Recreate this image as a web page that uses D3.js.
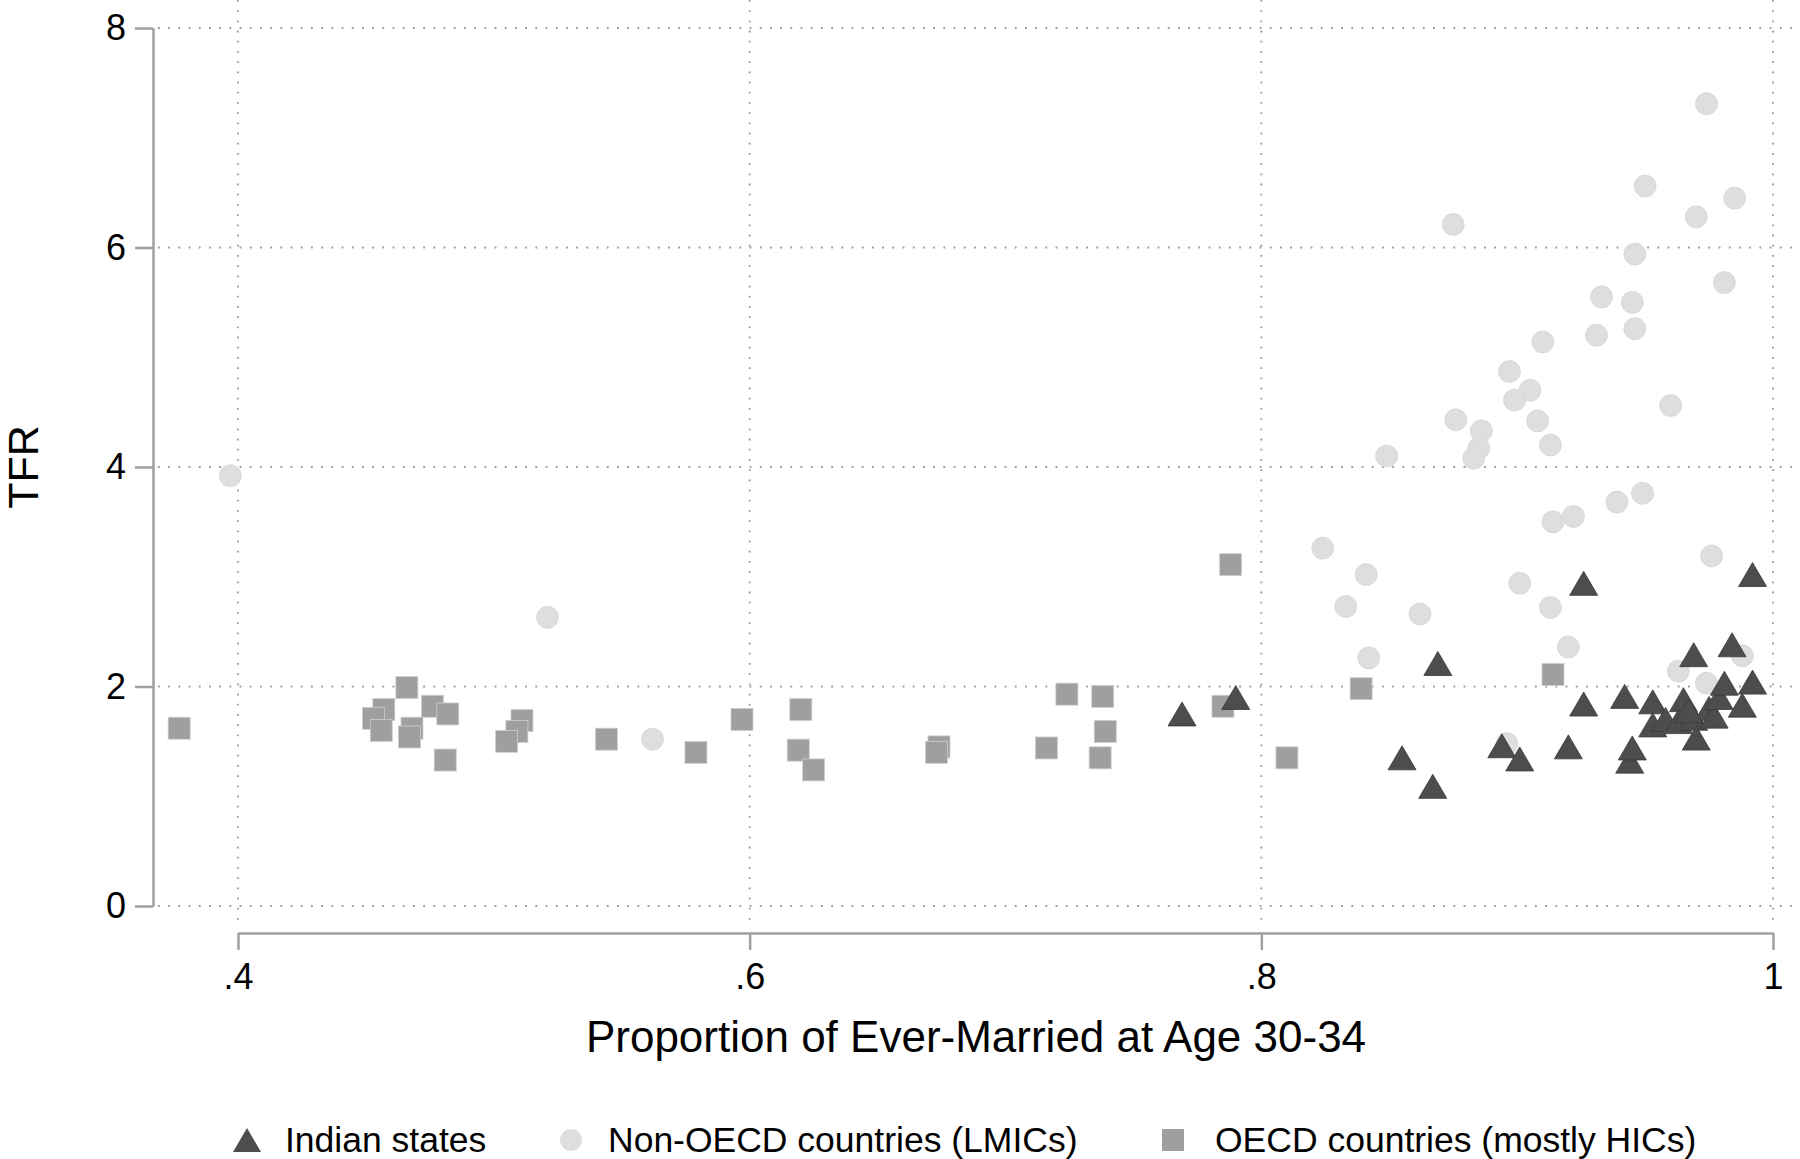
<!DOCTYPE html>
<html>
<head>
<meta charset="utf-8">
<script src="https://cdn.jsdelivr.net/npm/d3@7"></script>
<style>
  body { margin: 0; background: #fff; }
  text { font-family: "Liberation Sans", Arial, Helvetica, sans-serif; }
</style>
</head>
<body>
<div id="chart"></div>
<script>
// values: [proportion ever married 30-34, TFR]
var indianStates = [
   [0.769, 1.75], [0.790, 1.90], [0.855, 1.35], [0.867, 1.09], [0.869, 2.21],
   [0.894, 1.46], [0.901, 1.34], [0.920, 1.45], [0.926, 2.94], [0.926, 1.84],
   [0.942, 1.91], [0.944, 1.32], [0.945, 1.44], [0.953, 1.86], [0.953, 1.65],
   [0.958, 1.70], [0.965, 1.88], [0.963, 1.68], [0.969, 2.29], [0.969, 1.71],
   [0.970, 1.53], [0.975, 1.80], [0.977, 1.73], [0.979, 1.90], [0.981, 2.03],
   [0.984, 2.38], [0.988, 1.83], [0.992, 2.04], [0.992, 3.02], [0.967, 1.78]
];

var nonOecd = [
   [0.974, 7.31], [0.950, 6.56], [0.985, 6.45], [0.970, 6.28], [0.875, 6.21],
   [0.946, 5.94], [0.981, 5.68], [0.933, 5.55], [0.945, 5.50], [0.946, 5.26],
   [0.931, 5.20], [0.910, 5.14], [0.897, 4.87], [0.905, 4.70], [0.899, 4.61],
   [0.960, 4.56], [0.876, 4.43], [0.908, 4.42], [0.886, 4.33], [0.885, 4.17],
   [0.913, 4.20], [0.849, 4.10], [0.883, 4.08], [0.949, 3.76], [0.939, 3.68],
   [0.922, 3.55], [0.914, 3.50], [0.824, 3.26], [0.976, 3.19], [0.841, 3.02],
   [0.901, 2.94], [0.833, 2.73], [0.913, 2.72], [0.862, 2.66], [0.920, 2.36],
   [0.842, 2.26], [0.988, 2.28], [0.963, 2.14], [0.974, 2.03], [0.896, 1.48],
   [0.397, 3.92], [0.521, 2.63], [0.562, 1.52]
];

var oecd = [
   [0.377, 1.62], [0.466, 1.99], [0.457, 1.79], [0.453, 1.71], [0.456, 1.60],
   [0.476, 1.82], [0.482, 1.75], [0.468, 1.62], [0.467, 1.54], [0.481, 1.33],
   [0.511, 1.69], [0.509, 1.59], [0.505, 1.50], [0.544, 1.52], [0.579, 1.40],
   [0.597, 1.70], [0.620, 1.79], [0.619, 1.42], [0.625, 1.24], [0.674, 1.45],
   [0.673, 1.40], [0.716, 1.44], [0.724, 1.93], [0.738, 1.91], [0.739, 1.59],
   [0.737, 1.35], [0.785, 1.82], [0.788, 3.11], [0.810, 1.35], [0.839, 1.98],
   [0.914, 2.11]
];

var xTicks = [0.4, 0.6, 0.8, 1];
var xTickLabels = [".4", ".6", ".8", "1"];
var yTicks = [0, 2, 4, 6, 8];
var legendLabels = ["Indian states", "Non-OECD countries (LMICs)", "OECD countries (mostly HICs)"];

var width = 1800, height = 1159;

var svg = d3.select("#chart").append("svg")
   .attr("width", width)
   .attr("height", height);

// scales
var x = d3.scaleLinear().domain([0.4, 1]).range([238, 1773]);
var y = d3.scaleLinear().domain([0, 8]).range([906, 28]);

var gridColor = "#999999";
var axisColor = "#a0a0a0";

// dotted grid
svg.append("g").selectAll("line.hg")
   .data(yTicks)
   .enter().append("line")
   .attr("x1", 158).attr("x2", width)
   .attr("y1", function(d){ return y(d); })
   .attr("y2", function(d){ return y(d); })
   .attr("stroke", gridColor)
   .attr("stroke-width", 1.8)
   .attr("stroke-dasharray", "1.8 8.4");

svg.append("g").selectAll("line.vg")
   .data(xTicks)
   .enter().append("line")
   .attr("x1", function(d){ return x(d); })
   .attr("x2", function(d){ return x(d); })
   .attr("y1", 0).attr("y2", 923)
   .attr("stroke", gridColor)
   .attr("stroke-width", 1.8)
   .attr("stroke-dasharray", "1.8 8.4");

// axes
var yAxis = svg.append("g")
   .attr("transform", "translate(153,0)")
   .call(d3.axisLeft(y).tickValues(yTicks).tickSize(18).tickSizeOuter(0).tickPadding(9));

var xAxis = svg.append("g")
   .attr("transform", "translate(0,933)")
   .call(d3.axisBottom(x).tickValues(xTicks).tickSize(17).tickSizeOuter(0).tickPadding(13)
      .tickFormat(function(d, i){ return xTickLabels[i]; }));

[yAxis, xAxis].forEach(function(a){
   a.select(".domain").attr("stroke", axisColor).attr("stroke-width", 2.5);
   a.selectAll(".tick line").attr("stroke", axisColor).attr("stroke-width", 2.5);
   a.selectAll(".tick text").attr("fill", "#000").style("font-size", "36px")
      .style("font-family", '"Liberation Sans", Arial, Helvetica, sans-serif');
});

// axis titles
svg.append("text")
   .attr("x", 976).attr("y", 1037)
   .attr("text-anchor", "middle")
   .attr("dy", "0.35em")
   .style("font-size", "44px")
   .text("Proportion of Ever-Married at Age 30-34");

svg.append("text")
   .attr("transform", "translate(23,467) rotate(-90)")
   .attr("text-anchor", "middle")
   .attr("dy", "0.35em")
   .style("font-size", "43px")
   .text("TFR");

// markers
function triPath(w, h) {
   return "M0," + (-h/2) + "L" + (w/2) + "," + (h/2) + "L" + (-w/2) + "," + (h/2) + "Z";
}

var circleFill = "#dedede", squareFill = "#9f9f9f", triFill = "#4d4d4d";

svg.append("g").selectAll("circle")
   .data(nonOecd)
   .enter().append("circle")
   .attr("cx", function(d){ return x(d[0]); })
   .attr("cy", function(d){ return y(d[1]); })
   .attr("r", 11)
   .attr("fill", circleFill)
   .attr("stroke", "#d6d6d6")
   .attr("stroke-width", 0.8);

svg.append("g").selectAll("rect")
   .data(oecd)
   .enter().append("rect")
   .attr("x", function(d){ return x(d[0]) - 11; })
   .attr("y", function(d){ return y(d[1]) - 11; })
   .attr("width", 22).attr("height", 22)
   .attr("fill", squareFill)
   .attr("stroke", "#cfcfcf")
   .attr("stroke-width", 0.8);

svg.append("g").selectAll("path")
   .data(indianStates)
   .enter().append("path")
   .attr("transform", function(d){ return "translate(" + x(d[0]) + "," + y(d[1]) + ")"; })
   .attr("d", triPath(28, 24))
   .attr("fill", triFill)
   .attr("stroke", "#3a3a3a")
   .attr("stroke-width", 0.8);

// legend
var legY = 1140;
var leg = svg.append("g");
leg.append("path")
   .attr("transform", "translate(247," + legY + ")")
   .attr("d", triPath(28, 24))
   .attr("fill", triFill);
leg.append("circle")
   .attr("cx", 571).attr("cy", legY).attr("r", 11)
   .attr("fill", circleFill);
leg.append("rect")
   .attr("x", 1173 - 11).attr("y", legY - 11)
   .attr("width", 22).attr("height", 22)
   .attr("fill", squareFill);

var legX = [285, 608, 1215];
leg.selectAll("text")
   .data(legendLabels)
   .enter().append("text")
   .attr("x", function(d, i){ return legX[i]; })
   .attr("y", legY)
   .attr("dy", "0.35em")
   .style("font-size", "35.5px")
   .text(function(d){ return d; });
</script>
</body>
</html>
